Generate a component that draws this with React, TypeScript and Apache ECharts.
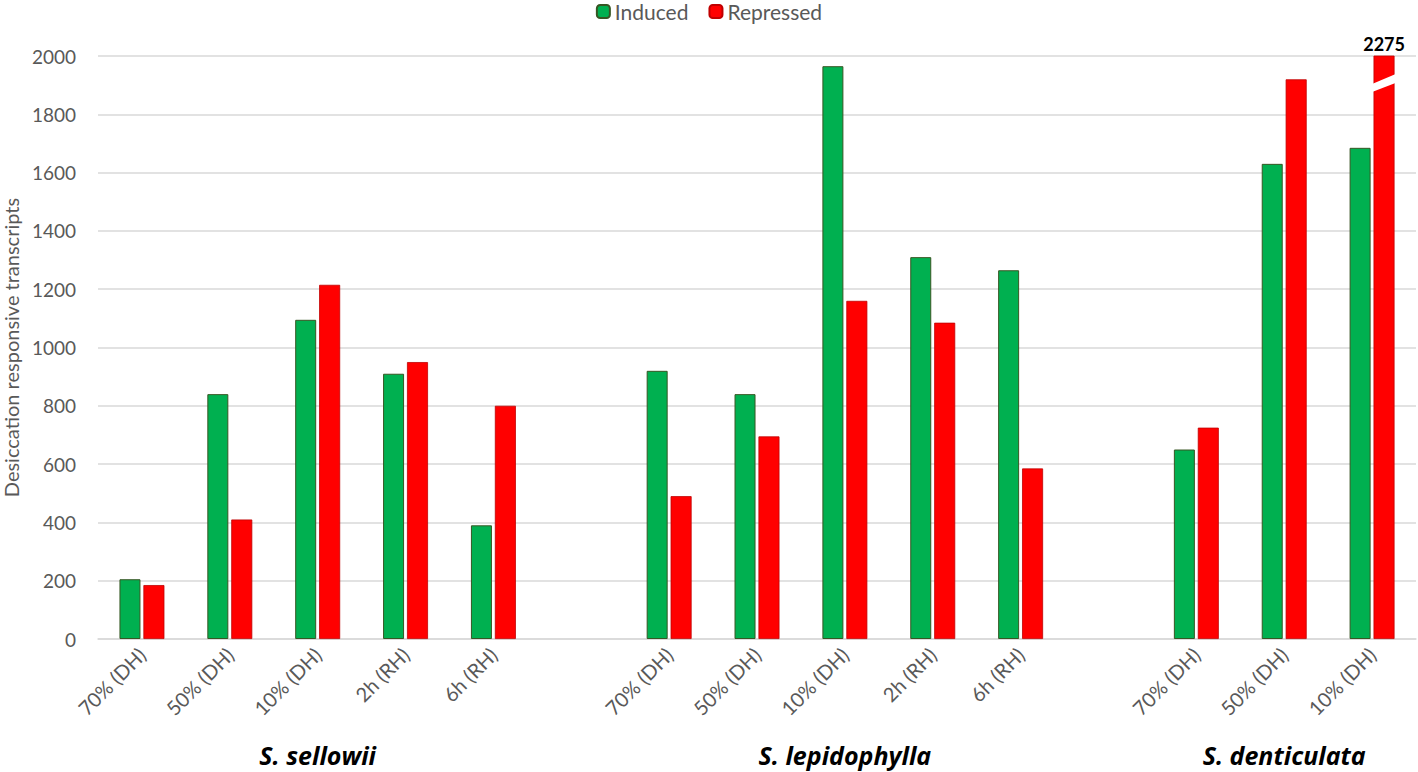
import React, { useEffect, useRef } from "react";
import * as echarts from "echarts";

const categories = [
  "70% (DH)", "50% (DH)", "10% (DH)", "2h (RH)", "6h (RH)", "",
  "70% (DH)", "50% (DH)", "10% (DH)", "2h (RH)", "6h (RH)", "",
  "70% (DH)", "50% (DH)", "10% (DH)",
];
const induced = [205, 840, 1095, 910, 390, null, 920, 840, 1965, 1310, 1265, null, 650, 1630, 1685];
const repressed = [185, 410, 1215, 950, 800, null, 490, 695, 1160, 1085, 585, null, 725, 1920, 2275];
const groups = [
  { name: "S. sellowii", category: 2 },
  { name: "S. lepidophylla", category: 8 },
  { name: "S. denticulata", category: 13 },
];
const yMax = 2000;
const yInterval = 200;

const FONT = "Lato, 'Open Sans', sans-serif";

export default function App() {
  const ref = useRef<HTMLDivElement>(null);
  useEffect(() => {
    if (!ref.current) return;
    const chart = echarts.init(ref.current, null, { renderer: "svg" });
    chart.setOption({
      animation: false,
      legend: {
        top: -4,
        left: "center",
        itemWidth: 13,
        itemHeight: 13,
        itemGap: 20,
        textStyle: { fontFamily: FONT, fontSize: 21, color: "#595959" },
        data: ["Induced", "Repressed"],
      },
      grid: { left: 98, right: 2, top: 56, bottom: 133, outerBoundsMode: "none", containLabel: false },
      xAxis: {
        type: "category",
        data: categories,
        axisTick: { show: false },
        axisLine: { lineStyle: { color: "#d9d9d9", width: 1.5 } },
        axisLabel: {
          interval: 0,
          rotate: 45,
          margin: 12,
          fontFamily: FONT,
          fontSize: 20,
          color: "#595959",
        },
      },
      yAxis: {
        type: "value",
        min: 0,
        max: yMax,
        interval: yInterval,
        name: "Desiccation responsive transcripts",
        nameLocation: "middle",
        nameGap: 74,
        nameTextStyle: { fontFamily: FONT, fontSize: 20, color: "#595959" },
        axisLabel: {
          fontFamily: FONT,
          fontSize: 19,
          color: "#595959",
          margin: 22,
          formatter: (v: number) => String(v),
        },
        splitLine: { lineStyle: { color: "#d9d9d9", width: 1.5 } },
      },
      series: [
        {
          name: "Induced",
          type: "bar",
          data: induced,
          barWidth: 21,
          barGap: "14%",
          itemStyle: { color: "#00B050", borderColor: "#375623", borderWidth: 1 },
        },
        {
          name: "Repressed",
          type: "bar",
          data: repressed,
          barWidth: 21,
          clip: true,
          itemStyle: { color: "#FF0000", borderColor: "#C00000", borderWidth: 0.8 },
        },
      ],
    });

    const graphics: any[] = [];
    repressed.forEach((v, i) => {
      if (v != null && v > yMax) {
        const p = chart.convertToPixel({ xAxisIndex: 0, yAxisIndex: 0 }, [i, yMax]) as number[];
        const cx = p[0] + 12;
        const top = p[1];
        graphics.push({
          type: "polygon",
          shape: {
            points: [
              [cx - 12, top + 28],
              [cx + 14, top + 17],
              [cx + 14, top + 26],
              [cx - 12, top + 36],
            ],
          },
          style: { fill: "#ffffff" },
          z: 100,
        });
        graphics.push({
          type: "text",
          x: cx,
          y: top - 3,
          style: {
            text: String(v),
            fontFamily: FONT,
            fontWeight: "bold",
            fontSize: 18,
            fill: "#000",
            textAlign: "center",
            textVerticalAlign: "bottom",
          },
          z: 100,
        });
      }
    });
    groups.forEach((g) => {
      const p = chart.convertToPixel({ xAxisIndex: 0, yAxisIndex: 0 }, [g.category, 0]) as number[];
      graphics.push({
        type: "text",
        x: p[0],
        y: 755,
        style: {
          text: g.name,
          fontFamily: "'Open Sans', sans-serif",
          fontWeight: "bold",
          fontStyle: "italic",
          fontSize: 25,
          fill: "#000",
          textAlign: "center",
          textVerticalAlign: "middle",
        },
      });
    });
    chart.setOption({ graphic: graphics });
    return () => chart.dispose();
  }, []);
  return <div ref={ref} style={{ width: 1418, height: 772, position: "absolute", left: 0, top: 0 }} />;
}
